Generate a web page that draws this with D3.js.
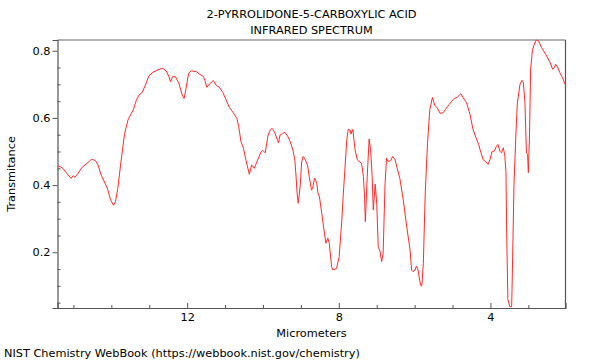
<!DOCTYPE html>
<html>
<head>
<meta charset="utf-8">
<script src="https://cdn.jsdelivr.net/npm/d3@7/dist/d3.min.js"></script>
<style>
  html, body { margin: 0; padding: 0; background: #fff; }
  svg { display: block; font-family: "DejaVu Sans", sans-serif; }
</style>
</head>
<body>
<svg id="chart" width="600" height="360"></svg>
<script>
// ---- data ----
const titleLines = ["2-PYRROLIDONE-5-CARBOXYLIC ACID", "INFRARED SPECTRUM"];
const xLabel = "Micrometers";
const yLabel = "Transmitance";
const footer = "NIST Chemistry WebBook (https://webbook.nist.gov/chemistry)";
const xDomain = [15.42, 2.02];
const yDomain = [0.034, 0.832];
const xMajorTicks = [12, 8, 4];
const xMinorTicks = [15, 14, 13, 11, 10, 9, 7, 6, 5, 3];
const yMajorTicks = [0.2, 0.4, 0.6, 0.8];
const yMinorTicks = [0.05, 0.1, 0.15, 0.25, 0.3, 0.35, 0.45, 0.5, 0.55, 0.65, 0.7, 0.75];

const wavelength = [
  15.41, 15.35, 15.28, 15.14, 15.06, 15.01, 14.96, 14.88, 14.77, 14.64,
  14.52, 14.42, 14.35, 14.27, 14.13, 14.09, 14.02, 13.94, 13.89, 13.83,
  13.74, 13.65, 13.56, 13.48, 13.42, 13.34, 13.27, 13.19, 13.10, 13.01,
  12.90, 12.77, 12.66, 12.55, 12.48, 12.44, 12.38, 12.31, 12.22, 12.13,
  12.08, 12.03, 11.96, 11.89, 11.76, 11.68, 11.57, 11.53, 11.48, 11.41,
  11.31, 11.24, 11.15, 11.06, 10.97, 10.89, 10.80, 10.69, 10.64, 10.58,
  10.52, 10.45, 10.36, 10.30, 10.23, 10.14, 10.05, 10.01, 9.94, 9.87,
  9.81, 9.76, 9.70, 9.65, 9.59, 9.55, 9.48, 9.42, 9.35, 9.28,
  9.21, 9.16, 9.13, 9.10, 9.07, 9.02, 8.98, 8.94, 8.88, 8.82,
  8.78, 8.72, 8.69, 8.64, 8.58, 8.55, 8.51, 8.45, 8.39, 8.34,
  8.29, 8.25, 8.19, 8.15, 8.06, 7.99, 7.92, 7.88, 7.84, 7.79,
  7.75, 7.70, 7.68, 7.63, 7.57, 7.51, 7.44, 7.40, 7.35, 7.32,
  7.30, 7.25, 7.20, 7.16, 7.12, 7.09, 7.04, 7.00, 6.96, 6.91,
  6.87, 6.83, 6.78, 6.74, 6.70, 6.63, 6.58, 6.52, 6.46, 6.39,
  6.30, 6.21, 6.12, 6.08, 6.04, 5.99, 5.95, 5.91, 5.86, 5.83,
  5.81, 5.77, 5.72, 5.66, 5.60, 5.53, 5.47, 5.40, 5.33, 5.25,
  5.18, 5.09, 4.98, 4.87, 4.78, 4.72, 4.63, 4.54, 4.46, 4.38,
  4.31, 4.25, 4.19, 4.12, 4.06, 4.01, 3.96, 3.90, 3.84, 3.80,
  3.75, 3.71, 3.66, 3.62, 3.59, 3.57, 3.54, 3.49, 3.44, 3.42,
  3.38, 3.33, 3.29, 3.22, 3.17, 3.13, 3.09, 3.05, 3.02, 3.00,
  2.97, 2.94, 2.89, 2.82, 2.79, 2.73, 2.65, 2.54, 2.43, 2.36,
  2.32, 2.28, 2.23, 2.17, 2.10, 2.03
];
const transmittance = [
  0.457, 0.455, 0.450, 0.430, 0.420, 0.428, 0.423, 0.435, 0.453, 0.465,
  0.477, 0.473, 0.460, 0.430, 0.397, 0.385, 0.356, 0.340, 0.351, 0.390,
  0.475, 0.554, 0.594, 0.612, 0.624, 0.653, 0.668, 0.675, 0.698, 0.725,
  0.736, 0.743, 0.748, 0.740, 0.723, 0.708, 0.723, 0.723, 0.703, 0.668,
  0.658, 0.688, 0.733, 0.740, 0.738, 0.731, 0.723, 0.711, 0.691, 0.701,
  0.711, 0.698, 0.691, 0.676, 0.653, 0.632, 0.618, 0.599, 0.574, 0.529,
  0.512, 0.475, 0.432, 0.460, 0.450, 0.475, 0.499, 0.504, 0.496, 0.546,
  0.564, 0.569, 0.559, 0.544, 0.526, 0.549, 0.554, 0.557, 0.546, 0.529,
  0.504, 0.475, 0.430, 0.376, 0.346, 0.395, 0.469, 0.485, 0.475, 0.457,
  0.425, 0.385, 0.390, 0.421, 0.406, 0.376, 0.365, 0.316, 0.266, 0.227,
  0.242, 0.227, 0.157, 0.147, 0.152, 0.187, 0.296, 0.376, 0.445, 0.534,
  0.566, 0.564, 0.552, 0.566, 0.504, 0.475, 0.468, 0.465, 0.425, 0.365,
  0.291, 0.425, 0.537, 0.504, 0.425, 0.326, 0.403, 0.346, 0.217, 0.202,
  0.172, 0.197, 0.405, 0.480, 0.470, 0.473, 0.485, 0.477, 0.450, 0.420,
  0.356, 0.278, 0.207, 0.147, 0.142, 0.147, 0.159, 0.147, 0.112, 0.100,
  0.100, 0.167, 0.376, 0.524, 0.624, 0.661, 0.638, 0.629, 0.614, 0.615,
  0.626, 0.640, 0.655, 0.662, 0.672, 0.660, 0.645, 0.611, 0.566, 0.541,
  0.521, 0.496, 0.475, 0.469, 0.462, 0.477, 0.499, 0.501, 0.516, 0.521,
  0.501, 0.496, 0.511, 0.487, 0.437, 0.249, 0.060, 0.038, 0.038, 0.149,
  0.397, 0.546, 0.645, 0.700, 0.712, 0.705, 0.645, 0.496, 0.492, 0.437,
  0.546, 0.745, 0.804, 0.826, 0.832, 0.829, 0.809, 0.789, 0.766, 0.745,
  0.749, 0.760, 0.752, 0.735, 0.720, 0.700
];

// ---- drawing ----
const svg = d3.select("#chart");
const L = 57.5, R = 565.5, T = 40, B = 308;
const FS = 11.3;
const x = d3.scaleLinear().domain(xDomain).range([L, R]);
const y = d3.scaleLinear().domain(yDomain).range([B, T]);
const axisColor = "#555";

// frame: top and right borders
svg.append("line").attr("x1", L).attr("x2", R).attr("y1", T).attr("y2", T)
  .attr("stroke", "#999").attr("stroke-width", 1.5);
svg.append("line").attr("x1", R).attr("x2", R).attr("y1", T).attr("y2", B)
  .attr("stroke", axisColor).attr("stroke-width", 1.2);

// x axis
const gx = svg.append("g").attr("transform", `translate(0,${B})`);
gx.call(d3.axisBottom(x).tickValues(xMajorTicks).tickSize(-5).tickPadding(5).tickFormat(d3.format("d")));
const gxMinor = svg.append("g").attr("transform", `translate(0,${B})`);
gxMinor.call(d3.axisBottom(x).tickValues(xMinorTicks).tickSize(-3).tickFormat(""));
gxMinor.select(".domain").remove();

// y axis
const gy = svg.append("g").attr("transform", `translate(${L},0)`);
gy.call(d3.axisLeft(y).tickValues(yMajorTicks).tickSize(5).tickPadding(2).tickFormat(d3.format(".1f")));
const gyMinor = svg.append("g").attr("transform", `translate(${L},0)`);
gyMinor.call(d3.axisLeft(y).tickValues(yMinorTicks).tickSize(-3).tickFormat(""));
gyMinor.select(".domain").remove();

svg.selectAll(".domain").attr("stroke", axisColor).attr("stroke-width", 1.2);
svg.selectAll(".tick line").attr("stroke", axisColor).attr("stroke-width", 1);
svg.selectAll(".tick text").attr("fill", "#000").attr("font-size", FS)
  .attr("font-family", "DejaVu Sans, sans-serif");

// spectrum
const pts = wavelength.map((w, i) => [w, transmittance[i]]);
svg.append("defs").append("clipPath").attr("id", "clip")
  .append("rect").attr("x", L).attr("y", T - 1).attr("width", R - L).attr("height", B - T + 1);
svg.append("path")
  .datum(pts)
  .attr("clip-path", "url(#clip)")
  .attr("fill", "none")
  .attr("stroke", "#ff2a2a")
  .attr("stroke-width", 1)
  .attr("stroke-linejoin", "round")
  .attr("d", d3.line().x(d => x(d[0])).y(d => y(d[1])));

// texts
const cx = (L + R) / 2;
svg.append("text").attr("x", cx).attr("y", 18).attr("text-anchor", "middle")
  .attr("font-size", FS).text(titleLines[0]);
svg.append("text").attr("x", cx).attr("y", 34).attr("text-anchor", "middle")
  .attr("font-size", FS).text(titleLines[1]);
svg.append("text").attr("x", cx).attr("y", 337).attr("text-anchor", "middle")
  .attr("font-size", FS).text(xLabel);
svg.append("text").attr("transform", `translate(15,${(T + B) / 2}) rotate(-90)`)
  .attr("text-anchor", "middle").attr("font-size", FS).text(yLabel);
svg.append("text").attr("x", 4).attr("y", 357).attr("font-size", FS).text(footer);
</script>
</body>
</html>
